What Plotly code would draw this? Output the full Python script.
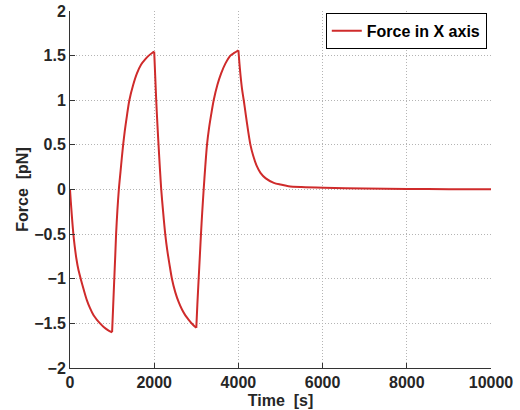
import plotly.graph_objects as go

# Time samples [s] and force values [pN], one pair per phase
seg1_t = [0, 20, 40, 60, 80, 110, 150, 200, 260, 330, 400, 476, 560, 640, 714, 800, 900, 1000]
seg1_f = [0.0, -0.14, -0.27, -0.39, -0.5, -0.63, -0.77, -0.9, -1.01, -1.13, -1.24, -1.33, -1.41, -1.46, -1.5, -1.54, -1.575, -1.6]

seg2_t = [1000, 1025, 1050, 1075, 1095, 1125, 1160, 1200, 1230, 1262, 1300, 1350, 1410, 1500, 1590, 1690, 1790, 1870, 1950, 2000]
seg2_f = [-1.6, -1.31, -1.02, -0.74, -0.5, -0.24, 0.0, 0.2, 0.35, 0.5, 0.65, 0.82, 1.0, 1.17, 1.3, 1.4, 1.46, 1.5, 1.53, 1.545]

seg3_t = [2000, 2025, 2048, 2075, 2103, 2135, 2167, 2210, 2262, 2310, 2360, 2421, 2500, 2580, 2660, 2740, 2820, 2910, 3000]
seg3_f = [1.545, 1.26, 1.0, 0.74, 0.5, 0.24, 0.0, -0.24, -0.5, -0.68, -0.83, -1.0, -1.15, -1.26, -1.345, -1.41, -1.46, -1.51, -1.55]

seg4_t = [3000, 3025, 3056, 3085, 3111, 3140, 3175, 3212, 3254, 3300, 3350, 3413, 3500, 3590, 3690, 3810, 3900, 4000]
seg4_f = [-1.55, -1.29, -1.0, -0.74, -0.5, -0.26, 0.0, 0.25, 0.5, 0.68, 0.83, 1.0, 1.17, 1.3, 1.41, 1.5, 1.53, 1.56]

seg5_t = [4000, 4025, 4050, 4085, 4127, 4175, 4230, 4286, 4350, 4430, 4524, 4650, 4841, 5000, 5190, 5500,
          6030, 7000, 8000, 9000, 10000]
seg5_f = [1.56, 1.41, 1.28, 1.13, 1.0, 0.84, 0.66, 0.5, 0.38, 0.27, 0.187, 0.125, 0.075, 0.055, 0.037, 0.027,
          0.019, 0.011, 0.007, 0.004, 0.002]

x_ticks = [0, 2000, 4000, 6000, 8000, 10000]
y_ticks = [-2, -1.5, -1, -0.5, 0, 0.5, 1, 1.5, 2]

FONT = "Liberation Sans, Arial, Helvetica, sans-serif"
AX = "#262626"
GRID = "#b4b4b4"
RED = "#cf2b2b"

fig = go.Figure()
segments = [(seg1_t, seg1_f), (seg2_t, seg2_f), (seg3_t, seg3_f), (seg4_t, seg4_f), (seg5_t, seg5_f)]
for i, (t, f) in enumerate(segments):
    fig.add_trace(go.Scatter(
        x=t, y=f, mode="lines", name="Force in X axis",
        legendgroup="fx", showlegend=(i == 0),
        line=dict(color=RED, width=2, shape="spline", smoothing=0.8),
    ))

axis_common = dict(
    showgrid=True, gridcolor=GRID, griddash="1px,2px", gridwidth=1,
    zeroline=False, showline=True, linecolor="#333333", linewidth=1,
    ticks="inside", ticklen=5, tickcolor="#333333",
    tickfont=dict(family=FONT, size=16, color=AX, weight="bold"),
    mirror=False, automargin=False,
)

fig.update_xaxes(
    range=[0, 10000], tickvals=x_ticks, ticktext=[str(v) for v in x_ticks],
    title=dict(text="Time\u00a0 [s]", font=dict(family=FONT, size=16, color=AX, weight="bold"), standoff=4),
    **axis_common,
)
fig.update_yaxes(
    range=[-2, 2], tickvals=y_ticks,
    title=dict(text="Force\u00a0 [pN]", font=dict(family=FONT, size=16, color=AX, weight="bold"), standoff=1),
    **axis_common,
)

fig.update_layout(
    template="none",
    width=520, height=410,
    margin=dict(l=70, r=29, t=11, b=42, pad=0),
    paper_bgcolor="white", plot_bgcolor="white",
    showlegend=True,
    legend=dict(
        x=0.99, y=0.995, xanchor="right", yanchor="top",
        bgcolor="white", bordercolor="#000000", borderwidth=1,
        font=dict(family=FONT, size=16, color="#000000", weight="bold"),
        itemwidth=30, tracegroupgap=0,
    ),
)

fig.write_html("out.html", config={"displayModeBar": False},
               post_script="document.body.style.margin='0';")
